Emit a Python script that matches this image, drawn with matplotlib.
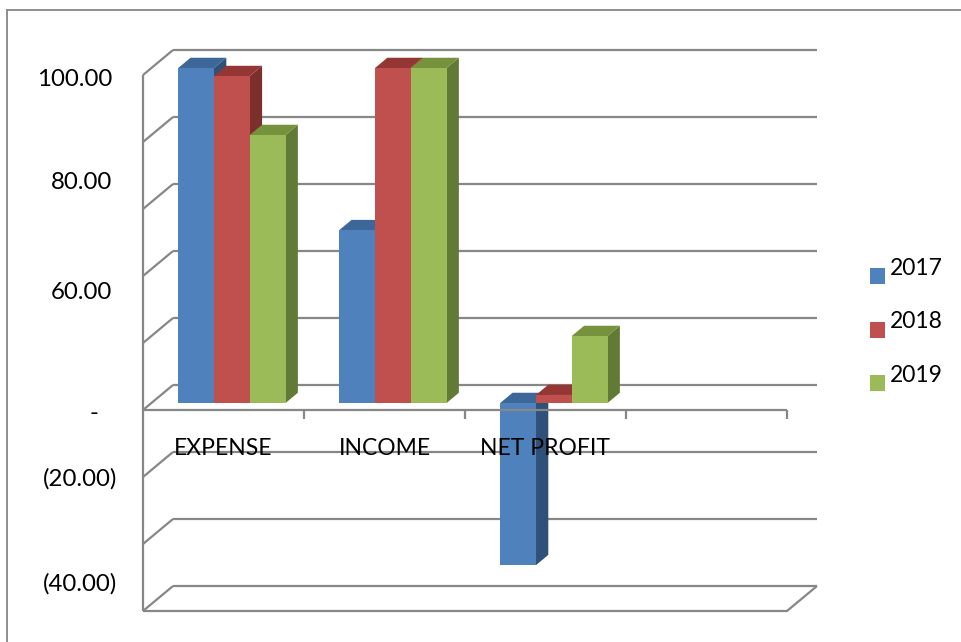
import matplotlib
matplotlib.use("Agg")
import matplotlib.pyplot as plt
from matplotlib.patches import Polygon, Rectangle
from matplotlib.lines import Line2D
from matplotlib.transforms import blended_transform_factory

# data ------------------------------------------------------------------------
CATEGORIES = ["EXPENSE", "INCOME", "NET PROFIT", ""]
YEARS = ["2017", "2018", "2019"]
EXPENSE = [100.0, 97.6, 80.0]
INCOME = [51.6, 100.0, 100.0]
NET_PROFIT = [-48.4, 2.4, 20.0]
TICK_LABELS = ["100.00", "80.00", "60.00", "-", "(20.00)", "(40.00)"]

# layout / style ----------------------------------------------------------------
W, H = 961, 642
LABEL_Y = [98.8, 67.8, 35.2, -0.9, -20.6, -51.9]     # where excel put the labels
LABEL_X = [112, 112, 112, 98, 117, 117]               # right edge, px
GRID = list(range(-60, 101, 20))
DX, DY = 30 / 161, 25 / 3.35                          # depth of the 3d box (data units)
F0, F1 = 0.28, 0.69                                    # bar front / back depth
BW = 1 / 4.5                                           # gap width 150%
FRONT = ["#4f81bd", "#c0504d", "#9bbb59"]
TOP = ["#3d6699", "#943634", "#76923c"]
SIDE = ["#2f5079", "#7d2f2d", "#617a36"]
GRAY, LW = "#878787", 1.6
plt.rcParams["font.family"] = ["Lato", "DejaVu Sans"]
FS, FS_Y = 16.5, 17.3

fig = plt.figure(figsize=(W / 100, H / 100), dpi=100)
fig.patch.set_facecolor("white")
ax = fig.add_axes([143 / W, (H - 611) / H, 644 / W, 536 / H])
ax.set_xlim(0, 4); ax.set_ylim(-60, 100); ax.axis("off")

# outer chart frame (right and bottom fall off the picture)
fig.add_artist(Line2D([7 / W, 1], [1 - 10 / H] * 2, color="#8e8e8e", lw=1.4))
fig.add_artist(Line2D([7 / W] * 2, [0, 1 - 10 / H], color="#8e8e8e", lw=1.4))

# back wall + left wall
kw = dict(color=GRAY, lw=LW, clip_on=False, solid_capstyle="butt")
for v in GRID:
    ax.plot([DX, 4 + DX], [v + DY] * 2, zorder=1, **kw)
    ax.plot([0, DX], [v, v + DY], zorder=1, **kw)
ax.plot([0, 0], [-60, 100], zorder=1, **kw)
# floor at the bottom
ax.plot([0, 4, 4 + DX], [-60, -60, -60 + DY], zorder=1, **kw)
# category axis at zero, in front of the bars
ax.plot([0, 4], [0, 0], zorder=5, **kw)
for i in range(1, 5):
    ax.plot([i, i], [0, -2.6], zorder=5, **kw)

# bars
for i, vals in enumerate([EXPENSE, INCOME, NET_PROFIT]):
    for j, v in enumerate(vals):
        x0 = i + 0.75 * BW + j * BW
        lo, hi = min(0, v), max(0, v)
        xr = x0 + BW
        ax.add_patch(Polygon([(xr + F0 * DX, lo + F0 * DY), (xr + F1 * DX, lo + F1 * DY),
                              (xr + F1 * DX, hi + F1 * DY), (xr + F0 * DX, hi + F0 * DY)],
                             closed=True, fc=SIDE[j], lw=0, zorder=2, clip_on=False))
        ax.add_patch(Polygon([(x0 + F0 * DX, hi + F0 * DY), (xr + F0 * DX, hi + F0 * DY),
                              (xr + F1 * DX, hi + F1 * DY), (x0 + F1 * DX, hi + F1 * DY)],
                             closed=True, fc=TOP[j], lw=0, zorder=2.5, clip_on=False))
        ax.bar(x0 + F0 * DX, v, bottom=F0 * DY, width=BW, align="edge",
               color=FRONT[j], lw=0, zorder=3, clip_on=False)

# category labels
for i, c in enumerate(CATEGORIES):
    ax.annotate(c, (i + 0.5, 0), xytext=(0, -27.5), textcoords="offset points",
                ha="center", va="center", fontsize=FS, color="black", zorder=6)

# value labels
tr = blended_transform_factory(fig.transFigure, ax.transData)
for lab, y, x in zip(TICK_LABELS, LABEL_Y, LABEL_X):
    ax.text(x / W, y, lab, transform=tr, ha="right", va="center", fontsize=FS_Y,
            color="black", clip_on=False)

# legend
for j, yr in enumerate(YEARS):
    sq_y = 276 + j * 53.7
    fig.add_artist(Rectangle((870 / W, 1 - (sq_y + 8) / H), 15 / W, 16 / H,
                             transform=fig.transFigure, fc=FRONT[j], lw=0))
    fig.text(890 / W, 1 - (sq_y - 8) / H, yr, ha="left", va="center", fontsize=FS)

fig.savefig("out.png", dpi=100, facecolor="white")
